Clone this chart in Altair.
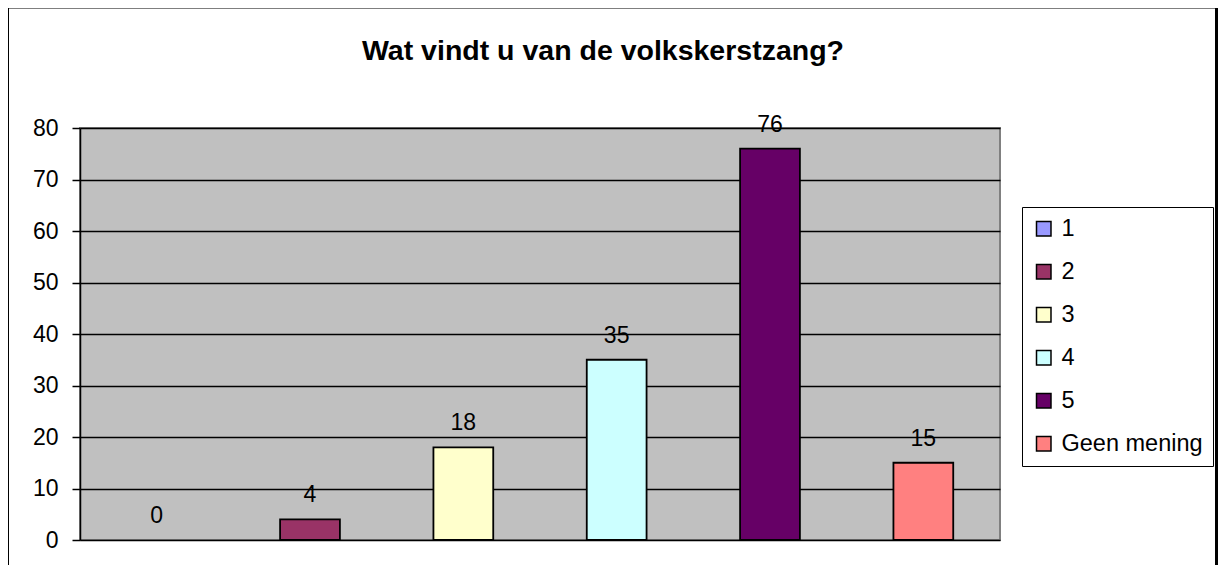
import altair as alt
import pandas as pd

categories = ["1", "2", "3", "4", "5", "Geen mening"]
values = [0, 4, 18, 35, 76, 15]
colors = ["#9999FF", "#993366", "#FFFFCC", "#CCFFFF", "#660066", "#FF8080"]
y_ticks = [0, 10, 20, 30, 40, 50, 60, 70, 80]

FONT = "Liberation Sans, Arial, Helvetica, sans-serif"

df = pd.DataFrame({"cat": categories, "v": values})

x_enc = alt.X("cat:N", sort=categories, axis=None,
              scale=alt.Scale(paddingInner=0.61, paddingOuter=0.305))
y_enc = alt.Y("v:Q", scale=alt.Scale(domain=[0, 80], nice=False),
              axis=alt.Axis(values=y_ticks, title=None, domainColor="black",
                            domainWidth=1.5, tickColor="black", tickWidth=1.5,
                            tickSize=8, labelFontSize=23, labelFont=FONT,
                            labelColor="black", labelPadding=14,
                            gridColor="black", gridWidth=1.5))

frame = alt.Chart(pd.DataFrame({"a": [0]})).mark_rect(
    fillOpacity=0, stroke="black", strokeWidth=3
).encode(x=alt.value(-72.5), x2=alt.value(1136.5), y=alt.value(-121), y2=alt.value(480))

bars = alt.Chart(df).mark_bar(stroke="black", strokeWidth=1.8).encode(
    x=x_enc,
    y=y_enc,
    color=alt.Color("cat:N", sort=categories,
                    scale=alt.Scale(domain=categories, range=colors),
                    legend=alt.Legend(title=None, orient="none", legendX=942, legendY=79,
                                      padding=10, strokeColor="black", fillColor="white",
                                      symbolType="square", symbolSize=210,
                                      symbolStrokeColor="black", symbolStrokeWidth=1.5,
                                      labelFontSize=23.5, labelFont=FONT, labelColor="black",
                                      labelOffset=6, rowPadding=18, labelLimit=300)),
    strokeOpacity=alt.condition(alt.datum.v > 0, alt.value(1), alt.value(0)),
)

labels = alt.Chart(df).mark_text(baseline="alphabetic", dy=-17, fontSize=23,
                                 font=FONT, color="black").encode(
    x=alt.X("cat:N", sort=categories),
    y=alt.Y("v:Q"),
    text=alt.Text("v:Q"),
)

chart = alt.layer(frame, bars, labels).properties(
    width=920, height=412,
    title=alt.TitleParams("Wat vindt u van de volkskerstzang?", fontSize=28.5,
                          fontWeight="bold", font=FONT, color="black",
                          anchor="middle", frame="group", dx=63, offset=4, dy=64),
    autosize=alt.AutoSizeParams(type="none"),
    padding={"left": 72, "top": 120, "right": 218, "bottom": 25},
).configure_view(fill="#C0C0C0", stroke="#808080", strokeWidth=2)

chart.save("out.html", embed_options={"renderer": "svg", "actions": False})
